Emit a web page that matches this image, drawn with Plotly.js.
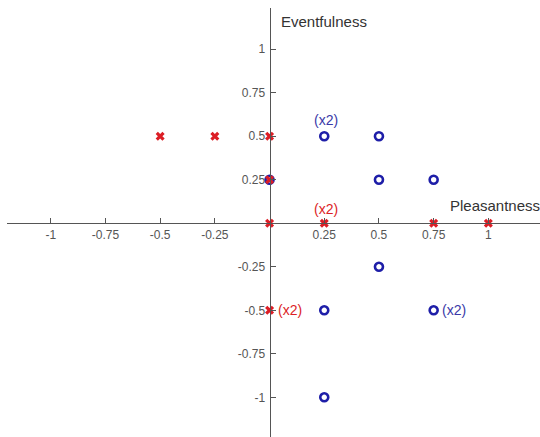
<!DOCTYPE html>
<html>
<head>
<meta charset="utf-8">
<script src="https://cdn.plot.ly/plotly-3.0.1.min.js"></script>
<style>html,body{margin:0;padding:0;background:#fff;}#chart{width:540px;height:437px;}</style>
</head>
<body>
<div id="chart"></div>
<script>
// Red "x" points (Pleasantness, Eventfulness)
var redX = [-0.5, -0.25, 0, 0, 0, 0.25, 0.75, 1, 0];
var redY = [0.5, 0.5, 0.5, 0.25, 0, 0, 0, 0, -0.5];
// Blue circle points
var blueX = [0, 0.25, 0.5, 0.5, 0.75, 0.5, 0.25, 0.75, 0.25];
var blueY = [0.25, 0.5, 0.5, 0.25, 0.25, -0.25, -0.5, -0.5, -1];
// Multiplicity labels
var noteText = ["(x2)", "(x2)", "(x2)", "(x2)"];
var noteX = [0.25, 0.25, 0, 0.75];
var noteY = [0.5, 0, -0.5, -0.5];
var noteSeries = ["blue", "red", "red", "blue"];
// Ticks
var tickVals = [-1, -0.75, -0.5, -0.25, 0.25, 0.5, 0.75, 1];
var tickText = ["-1", "-0.75", "-0.5", "-0.25", "0.25", "0.5", "0.75", "1"];
var xTitle = "Pleasantness";
var yTitle = "Eventfulness";

var xRange = [-1.2, 1.236];
var yRange = [-1.228, 1.237];

var RED = "#dc1e26";
var BLUE = "#1e1ea8";
var BLUE_TXT = "#3a3aa8";
var AXIS = "#555555";
var FONT = "Liberation Sans, Arial, sans-serif";

var traces = [
  {x: blueX, y: blueY, type: "scatter", mode: "markers",
   marker: {symbol: "circle-open", size: 8, color: BLUE, line: {width: 2.6, color: BLUE}},
   hoverinfo: "skip", showlegend: false},
  {x: redX, y: redY, type: "scatter", mode: "markers",
   marker: {symbol: "x", size: 8, color: RED, line: {width: 0}},
   hoverinfo: "skip", showlegend: false}
];

var annotations = [];
for (var i = 0; i < noteText.length; i++) {
  var isBlue = noteSeries[i] === "blue";
  var a = {x: noteX[i], y: noteY[i], xref: "x", yref: "y", text: noteText[i], showarrow: false,
           font: {family: FONT, size: 14, color: isBlue ? BLUE_TXT : RED}};
  if (noteX[i] === 0.25) { a.xanchor = "center"; a.yanchor = "middle"; a.yshift = (noteY[i] === 0 ? 14 : 16); a.xshift = 2; }
  else { a.xanchor = "left"; a.yanchor = "middle"; a.xshift = 6; }
  annotations.push(a);
}
annotations.push({x: 0, y: 1.159, xref: "x", yref: "y", xanchor: "left", yanchor: "middle", xshift: 9,
  text: yTitle, showarrow: false, font: {family: FONT, size: 15, color: "#333"}});
annotations.push({x: 1, y: 0, xref: "paper", yref: "y", xanchor: "right", yanchor: "middle", yshift: 18, xshift: 2,
  text: xTitle, showarrow: false, font: {family: FONT, size: 15, color: "#333"}});

var axisCommon = {
  tickvals: tickVals, ticktext: tickText, ticks: "inside", ticklen: 5, tickwidth: 1, tickcolor: AXIS,
  showline: true, linecolor: AXIS, linewidth: 1.2, showgrid: false, zeroline: false,
  tickfont: {family: FONT, size: 12, color: "#555"}, anchor: "free", fixedrange: true
};

var layout = {
  width: 540, height: 437,
  margin: {l: 7, r: 0, t: 8, b: 0},
  paper_bgcolor: "#fff", plot_bgcolor: "#fff",
  xaxis: Object.assign({}, axisCommon, {range: xRange,
    position: (0 - yRange[0]) / (yRange[1] - yRange[0])}),
  yaxis: Object.assign({}, axisCommon, {range: yRange, ticklabelstandoff: 2,
    position: (0 - xRange[0]) / (xRange[1] - xRange[0])}),
  annotations: annotations,
  showlegend: false
};

Plotly.newPlot("chart", traces, layout, {staticPlot: true, displayModeBar: false});
</script>
</body>
</html>
